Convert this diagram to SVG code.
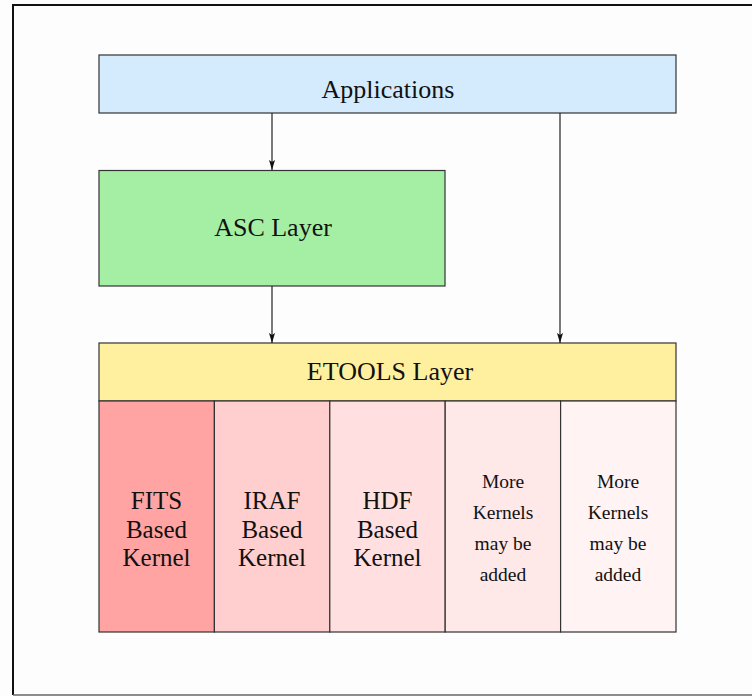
<svg xmlns="http://www.w3.org/2000/svg" width="752" height="696" viewBox="0 0 752 696">
<style>
.box{stroke:#333;stroke-width:1.2}
.t{font-family:'Liberation Serif','DejaVu Serif',serif;fill:#111;text-anchor:middle}
.big{font-size:26px}
.mid{font-size:25px}
.sm{font-size:19.5px}
.conn{stroke:#222;stroke-width:1.2;fill:none}
</style>
<defs>
<marker id="ah" viewBox="0 0 10 6" refX="10" refY="3" markerWidth="10" markerHeight="6" markerUnits="userSpaceOnUse" orient="auto">
<path d="M0,0 L10,3 L0,6 L2,3 Z" fill="#111"/>
</marker>
</defs>
<rect x="0" y="0" width="752" height="696" fill="#fdfdfd"/>
<path d="M13,695 L13,5 L752,5" fill="none" stroke="#111" stroke-width="2"/>
<line x1="13" y1="695" x2="752" y2="695" stroke="#666" stroke-width="1.5"/>
<g id="applications">
<rect class="box" x="99" y="55" width="577" height="58" fill="#d4eafd"/>
<text class="t big" x="388" y="98">Applications</text>
</g>
<g id="asc">
<rect class="box" x="99" y="170.5" width="346" height="115.5" fill="#a5efa5"/>
<text class="t big" x="273" y="236">ASC Layer</text>
</g>
<g id="etools">
<rect class="box" x="99" y="343" width="577" height="58" fill="#fff0a0"/>
<text class="t big" x="390" y="380">ETOOLS Layer</text>
</g>
<g id="fits">
<rect class="box" x="99" y="401" width="115.4" height="231" fill="#ffa3a3"/>
<text class="t mid" x="156.5" y="509">FITS</text>
<text class="t mid" x="156.5" y="538">Based</text>
<text class="t mid" x="156.5" y="566">Kernel</text>
</g>
<g id="iraf">
<rect class="box" x="214.4" y="401" width="115.4" height="231" fill="#ffcece"/>
<text class="t mid" x="272" y="509">IRAF</text>
<text class="t mid" x="272" y="538">Based</text>
<text class="t mid" x="272" y="566">Kernel</text>
</g>
<g id="hdf">
<rect class="box" x="329.8" y="401" width="115.4" height="231" fill="#ffdfdf"/>
<text class="t mid" x="387.5" y="509">HDF</text>
<text class="t mid" x="387.5" y="538">Based</text>
<text class="t mid" x="387.5" y="566">Kernel</text>
</g>
<g id="more1">
<rect class="box" x="445.2" y="401" width="115.4" height="231" fill="#ffe8e8"/>
<text class="t sm" x="503" y="488">More</text>
<text class="t sm" x="503" y="519">Kernels</text>
<text class="t sm" x="503" y="550">may be</text>
<text class="t sm" x="503" y="581">added</text>
</g>
<g id="more2">
<rect class="box" x="560.6" y="401" width="115.4" height="231" fill="#fff3f3"/>
<text class="t sm" x="618" y="488">More</text>
<text class="t sm" x="618" y="519">Kernels</text>
<text class="t sm" x="618" y="550">may be</text>
<text class="t sm" x="618" y="581">added</text>
</g>
<g id="connectors">
<line class="conn" x1="272" y1="113" x2="272" y2="170" marker-end="url(#ah)"/>
<line class="conn" x1="272" y1="286" x2="272" y2="343" marker-end="url(#ah)"/>
<line class="conn" x1="560" y1="113" x2="560" y2="343" marker-end="url(#ah)"/>
</g>
</svg>
